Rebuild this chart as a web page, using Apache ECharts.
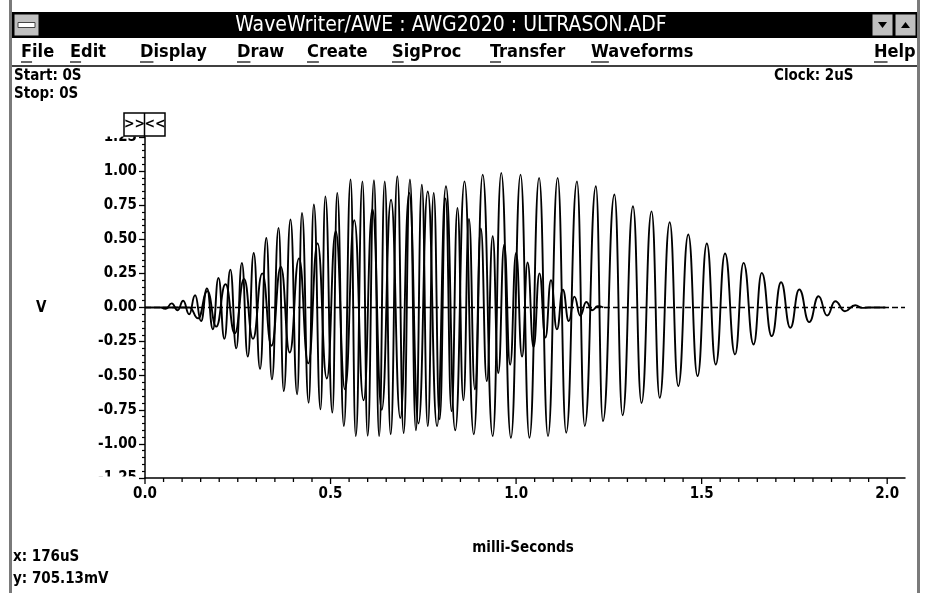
<!DOCTYPE html>
<html><head><meta charset="utf-8">
<script src="https://cdn.jsdelivr.net/npm/echarts@6/dist/echarts.min.js"></script>
<style>html,body{margin:0;padding:0;background:#fff}#c{width:928px;height:593px}</style>
</head><body><div id="c"></div>
<script>
// ---- Channel 1 (~20 kHz burst): extremum times (ms) and values (V)
const ch1Times = [0.000, 0.120, 0.143, 0.168, 0.192, 0.217, 0.242, 0.267, 0.291, 0.316, 0.341, 0.366, 0.390, 0.415, 0.440, 0.465, 0.490, 0.514, 0.539, 0.564, 0.589, 0.613, 0.638, 0.663, 0.688, 0.712, 0.737, 0.762, 0.787, 0.811, 0.836, 0.861, 0.886, 0.910, 0.937, 0.960, 0.986, 1.012, 1.036, 1.062, 1.086, 1.112, 1.135, 1.164, 1.185, 1.215, 1.234, 1.265, 1.287, 1.315, 1.338, 1.365, 1.387, 1.414, 1.437, 1.464, 1.489, 1.514, 1.538, 1.563, 1.590, 1.613, 1.640, 1.662, 1.689, 1.714, 1.739, 1.763, 1.790, 1.815, 1.838, 1.860, 1.886, 1.914, 1.932, 1.950, 1.995];
const ch1Volts = [0.000, 0.000, -0.080, 0.120, -0.140, 0.170, -0.190, 0.210, -0.230, 0.250, -0.280, 0.300, -0.330, 0.360, -0.410, 0.470, -0.520, 0.560, -0.600, 0.640, -0.680, 0.720, -0.750, 0.790, -0.810, 0.840, -0.850, 0.850, -0.870, 0.889, -0.900, 0.925, -0.930, 0.974, -0.943, 0.987, -0.955, 0.974, -0.955, 0.950, -0.943, 0.950, -0.918, 0.925, -0.869, 0.889, -0.833, 0.828, -0.790, 0.742, -0.700, 0.705, -0.662, 0.625, -0.576, 0.535, -0.503, 0.469, -0.418, 0.396, -0.344, 0.327, -0.271, 0.254, -0.210, 0.185, -0.149, 0.132, -0.107, 0.083, -0.059, 0.046, -0.027, 0.017, -0.003, 0.000, 0.000];

// ---- Channel 2 (~32 kHz burst): extremum times (ms) and values (V)
const ch2Times = [0.045, 0.056, 0.072, 0.088, 0.103, 0.119, 0.135, 0.151, 0.167, 0.183, 0.198, 0.214, 0.230, 0.246, 0.261, 0.277, 0.293, 0.310, 0.327, 0.342, 0.360, 0.374, 0.392, 0.410, 0.423, 0.441, 0.455, 0.473, 0.486, 0.505, 0.518, 0.536, 0.554, 0.568, 0.586, 0.600, 0.617, 0.631, 0.646, 0.662, 0.680, 0.697, 0.714, 0.730, 0.746, 0.762, 0.778, 0.794, 0.810, 0.826, 0.842, 0.858, 0.873, 0.889, 0.905, 0.921, 0.937, 0.952, 0.968, 0.984, 1.000, 1.016, 1.031, 1.047, 1.063, 1.079, 1.094, 1.110, 1.126, 1.142, 1.157, 1.173, 1.189, 1.205, 1.220, 1.235];
const ch2Volts = [0.000, -0.010, 0.030, -0.020, 0.050, -0.050, 0.090, -0.100, 0.140, -0.160, 0.217, -0.230, 0.278, -0.300, 0.327, -0.360, 0.400, -0.450, 0.510, -0.527, 0.584, -0.613, 0.645, -0.637, 0.694, -0.698, 0.755, -0.747, 0.815, -0.771, 0.840, -0.869, 0.938, -0.943, 0.925, -0.940, 0.933, -0.943, 0.925, -0.930, 0.962, -0.920, 0.938, -0.900, 0.900, -0.870, 0.840, -0.820, 0.800, -0.760, 0.730, -0.680, 0.650, -0.600, 0.580, -0.540, 0.522, -0.480, 0.460, -0.420, 0.400, -0.360, 0.330, -0.290, 0.250, -0.220, 0.200, -0.160, 0.130, -0.100, 0.080, -0.060, 0.040, -0.020, 0.010, 0.000];

// ---- Zero reference line (dashed) end points
const zeroLineTimes = [0, 2.048];
const zeroLineVolts = [0, 0];

// ---- Axis ticks and tick labels
const xMajorTicks = [0, 0.5, 1.0, 1.5, 2.0];
const xTickLabels = ['0.0', '0.5', '1.0', '1.5', '2.0'];
const xMinorTicks = [0.05, 0.10, 0.15, 0.20, 0.25, 0.30, 0.35, 0.40, 0.45, 0.55, 0.60, 0.65, 0.70, 0.75, 0.80, 0.85, 0.90, 0.95, 1.05, 1.10, 1.15, 1.20, 1.25, 1.30, 1.35, 1.40, 1.45, 1.55, 1.60, 1.65, 1.70, 1.75, 1.80, 1.85, 1.90, 1.95];

// ---- Window texts
const windowTitle = 'WaveWriter/AWE : AWG2020 : ULTRASON.ADF';
const menuItems = ['File', 'Edit', 'Display', 'Draw', 'Create', 'SigProc', 'Transfer', 'Waveforms', 'Help'];
const menuX = [21, 70, 140, 237, 307, 392, 490, 591, 874];

const FONT = '"DejaVu Sans Condensed", "DejaVu Sans", sans-serif';
const chart = echarts.init(document.getElementById('c'), null, {renderer: 'canvas'});

const mctx = document.createElement('canvas').getContext('2d');
function measure(s, font) { mctx.font = font; return mctx.measureText(s).width; }

function text(x, y, s, o) {
  o = o || {};
  const al = o.align || 'left';
  return {
    type: 'text', x: x, y: y, z: o.z || 60, silent: true,
    style: {
      text: s, fill: o.fill || '#000',
      font: (o.weight || 'bold') + ' ' + (o.size || 15) + 'px ' + FONT,
      textAlign: al, textVerticalAlign: 'middle',
      align: al, verticalAlign: 'middle'
    }
  };
}
function rect(x, y, w, h, fill, stroke, lw, z) {
  return {type: 'rect', z: z || 50, silent: true, shape: {x: x, y: y, width: w, height: h},
    style: {fill: fill || 'none', stroke: stroke || null, lineWidth: lw || 0}};
}
function line(x1, y1, x2, y2, lw, color, z) {
  return {type: 'line', z: z || 55, silent: true, shape: {x1: x1, y1: y1, x2: x2, y2: y2},
    style: {stroke: color || '#000', lineWidth: lw || 1}};
}

const graphics = [];
// window frame
graphics.push(rect(9, 0, 3, 593, '#7a7a7a'));
graphics.push(rect(917, 0, 3, 593, '#7a7a7a'));
// title bar
graphics.push(rect(12, 12, 905, 26, '#000'));
graphics.push(rect(14, 14, 25, 22, '#c0c0c0', '#000', 1, 52));
graphics.push(rect(18, 22.5, 17, 5, '#fff', '#444', 1, 53));
graphics.push(rect(872, 14, 21, 22, '#c0c0c0', '#000', 1, 52));
graphics.push(rect(895, 14, 21, 22, '#c0c0c0', '#000', 1, 52));
graphics.push({type: 'polygon', z: 53, silent: true, shape: {points: [[878, 22], [887, 22], [882.5, 28]]}, style: {fill: '#000'}});
graphics.push({type: 'polygon', z: 53, silent: true, shape: {points: [[901, 28], [910, 28], [905.5, 22]]}, style: {fill: '#000'}});
graphics.push(text(451, 25.5, windowTitle, {fill: '#fff', weight: 'normal', size: 21, align: 'center'}));
// menu
const menuFont = 'bold 18px ' + FONT;
menuItems.forEach((m, i) => {
  graphics.push(text(menuX[i], 52, m, {size: 18}));
  const w = measure(m[0], menuFont);
  graphics.push(line(menuX[i], 62, menuX[i] + w, 62, 1.2));
});
graphics.push(line(12, 66, 917, 66, 1.5));
// info texts
graphics.push(text(14, 76, 'Start: 0S'));
graphics.push(text(14, 94, 'Stop: 0S'));
graphics.push(text(774, 76, 'Clock: 2uS'));
graphics.push(text(36, 308, 'V'));
graphics.push(text(523, 548, 'milli-Seconds', {align: 'center'}));
graphics.push(text(13, 557, 'x: 176uS'));
graphics.push(text(13, 579, 'y: 705.13mV'));
// clipping of the end labels
graphics.push(rect(60, 104, 105, 32.5, '#fff', null, 0, 45));
graphics.push(rect(60, 476.5, 78, 9, '#fff', null, 0, 45));
// zoom box
graphics.push(rect(124, 113, 41, 23, '#fff', '#000', 1.5, 50));
graphics.push(line(144.5, 113, 144.5, 137, 1.5, '#000', 56));
graphics.push(text(134.5, 124.5, '>>', {size: 14, align: 'center'}));
graphics.push(text(155, 124.5, '<<', {size: 14, align: 'center'}));

const axisText = {fontFamily: FONT, fontWeight: 'bold', fontSize: 15, color: '#000'};
const traceStyle = {color: '#000', width: 1.9};
const gridBox = {left: 145, right: 23, top: 137, bottom: 115, containLabel: false};
const Y_MIN = -1.25;

// tick marks along the time axis, placed through the axis scale
const xTickData = xMajorTicks.map(v => [v, 6]).concat(xMinorTicks.map(v => [v, 4]));

chart.setOption({
  animation: false,
  backgroundColor: '#fff',
  grid: [Object.assign({}, gridBox), Object.assign({}, gridBox)],
  xAxis: [{
    gridIndex: 0, type: 'value', min: 0, max: 2.048, show: false
  }, {
    gridIndex: 1, type: 'value', min: 0, max: 2.048, interval: 0.5, position: 'bottom',
    axisLine: {show: true, lineStyle: {color: '#000', width: 1.5}},
    axisTick: {show: false},
    axisLabel: Object.assign({margin: 9, showMaxLabel: false,
      formatter: v => { const i = xMajorTicks.findIndex(t => Math.abs(t - v) < 1e-6); return i < 0 ? '' : xTickLabels[i]; }}, axisText),
    splitLine: {show: false}
  }],
  yAxis: [{
    gridIndex: 0, type: 'value', min: Y_MIN, max: 1.25, interval: 0.25,
    axisLine: {show: true, lineStyle: {color: '#000', width: 1.5}},
    axisTick: {show: true, length: 6, lineStyle: {color: '#000', width: 1.3}},
    minorTick: {show: true, splitNumber: 5, length: 3, lineStyle: {color: '#000', width: 1.2}},
    axisLabel: Object.assign({margin: 8, formatter: v => v.toFixed(2)}, axisText),
    splitLine: {show: false}, minorSplitLine: {show: false}
  }, {
    gridIndex: 1, type: 'value', min: 0, max: 1, show: false
  }],
  series: [{
    name: 'Zero', type: 'line', xAxisIndex: 0, yAxisIndex: 0, showSymbol: false, silent: true,
    lineStyle: {color: '#000', width: 1.3, type: [6, 3]},
    data: zeroLineTimes.map((t, i) => [t, zeroLineVolts[i]])
  }, {
    name: 'CH1', type: 'line', xAxisIndex: 0, yAxisIndex: 0, showSymbol: false, smooth: 0.5, smoothMonotone: 'x',
    lineStyle: traceStyle, silent: true,
    data: ch1Times.map((t, i) => [t, ch1Volts[i]])
  }, {
    name: 'CH2', type: 'line', xAxisIndex: 0, yAxisIndex: 0, showSymbol: false, smooth: 0.5, smoothMonotone: 'x',
    lineStyle: traceStyle, silent: true,
    data: ch2Times.map((t, i) => [t, ch2Volts[i]])
  }, {
    name: 'xTicks', type: 'custom', xAxisIndex: 0, yAxisIndex: 0, silent: true, clip: false,
    data: xTickData,
    renderItem: (params, api) => {
      const p = api.coord([api.value(0), Y_MIN]);
      return {type: 'line', shape: {x1: p[0], y1: p[1], x2: p[0], y2: p[1] + api.value(1)},
        style: {stroke: '#000', lineWidth: 1.3}};
    }
  }],
  graphic: graphics
});
</script></body></html>
